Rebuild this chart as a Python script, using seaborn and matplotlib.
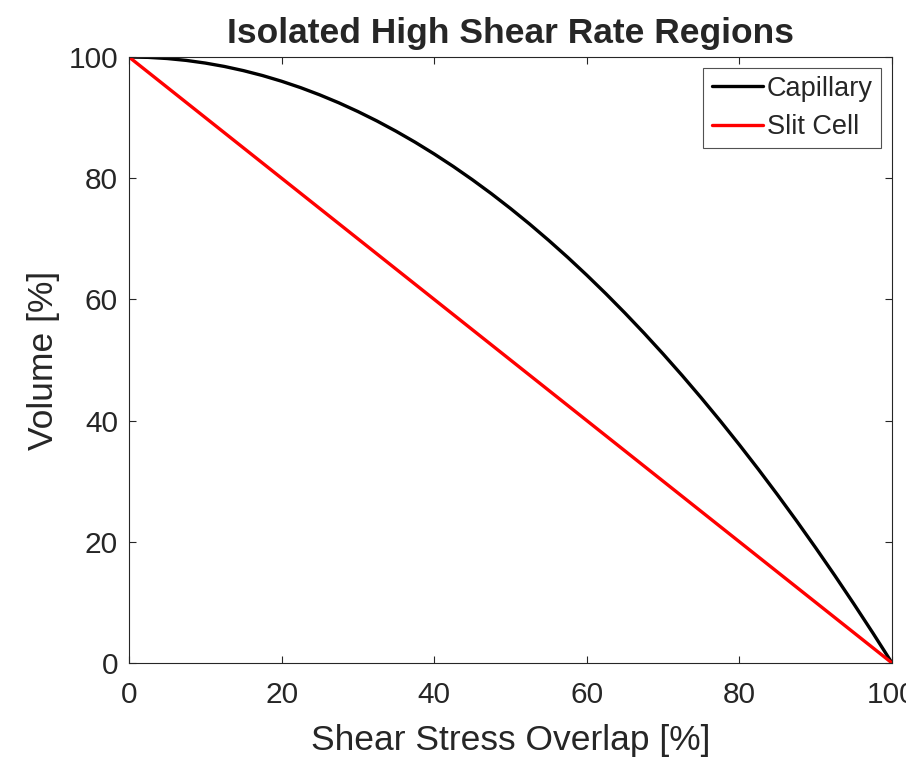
import matplotlib
matplotlib.use("Agg")
import matplotlib.pyplot as plt
import seaborn as sns
import pandas as pd

# Data
overlap = [0, 2.5, 5, 7.5, 10, 12.5, 15, 17.5, 20, 22.5, 25, 27.5, 30, 32.5, 35, 37.5,
           40, 42.5, 45, 47.5, 50, 52.5, 55, 57.5, 60, 62.5, 65, 67.5, 70, 72.5,
           75, 77.5, 80, 82.5, 85, 87.5, 90, 92.5, 95, 97.5, 100]
capillary = [100, 99.94, 99.75, 99.44, 99, 98.44, 97.75, 96.94, 96, 94.94, 93.75,
             92.44, 91, 89.44, 87.75, 85.94, 84, 81.94, 79.75, 77.44, 75, 72.44,
             69.75, 66.94, 64, 60.94, 57.75, 54.44, 51, 47.44, 43.75, 39.94, 36,
             31.94, 27.75, 23.44, 19, 14.44, 9.75, 4.94, 0]
slit_x = [0, 100]
slit = [100, 0]

xticks = [0, 20, 40, 60, 80, 100]
yticks = [0, 20, 40, 60, 80, 100]

sns.set_theme(style="ticks")
plt.rcParams['font.family'] = ['Liberation Sans', 'DejaVu Sans']

fig = plt.figure(figsize=(9.06, 7.6), dpi=100)
ax = fig.add_axes([129/906, 1-663/760, (892-129)/906, (663-57)/760])

df_cap = pd.DataFrame({"x": overlap, "y": capillary})
df_slit = pd.DataFrame({"x": slit_x, "y": slit})
sns.lineplot(data=df_cap, x="x", y="y", ax=ax, color="black", lw=2.4, label="Capillary")
sns.lineplot(data=df_slit, x="x", y="y", ax=ax, color="#ff0000", lw=2.4, label="Slit Cell")

ax.set_xlim(0, 100)
ax.set_ylim(0, 100)
ax.set_xticks(xticks)
ax.set_yticks(yticks)
ax.set_xticklabels([str(t) for t in xticks])
ax.tick_params(direction="in", top=True, right=True, length=5, width=0.8,
               colors="#262626", labelsize=21.5)
ax.tick_params(axis="x", pad=13)
ax.tick_params(axis="y", pad=8)
for s in ax.spines.values():
    s.set_color("#262626")
    s.set_linewidth(0.8)

ax.set_xlabel("Shear Stress Overlap [%]", fontsize=25.5, color="#262626", labelpad=11)
ax.set_ylabel("Volume [%]", fontsize=25.5, color="#262626", labelpad=6)
ax.set_title("Isolated High Shear Rate Regions", fontsize=25.5, fontweight="bold", pad=10)

leg = ax.legend(loc="upper right", fontsize=19.5, frameon=True, fancybox=False,
                edgecolor="#262626", handlelength=1.9, handletextpad=0.15,
                borderpad=0.3, labelspacing=0.45, borderaxespad=0.4)
leg.get_frame().set_linewidth(0.8)

fig.savefig("out.png", dpi=100)
